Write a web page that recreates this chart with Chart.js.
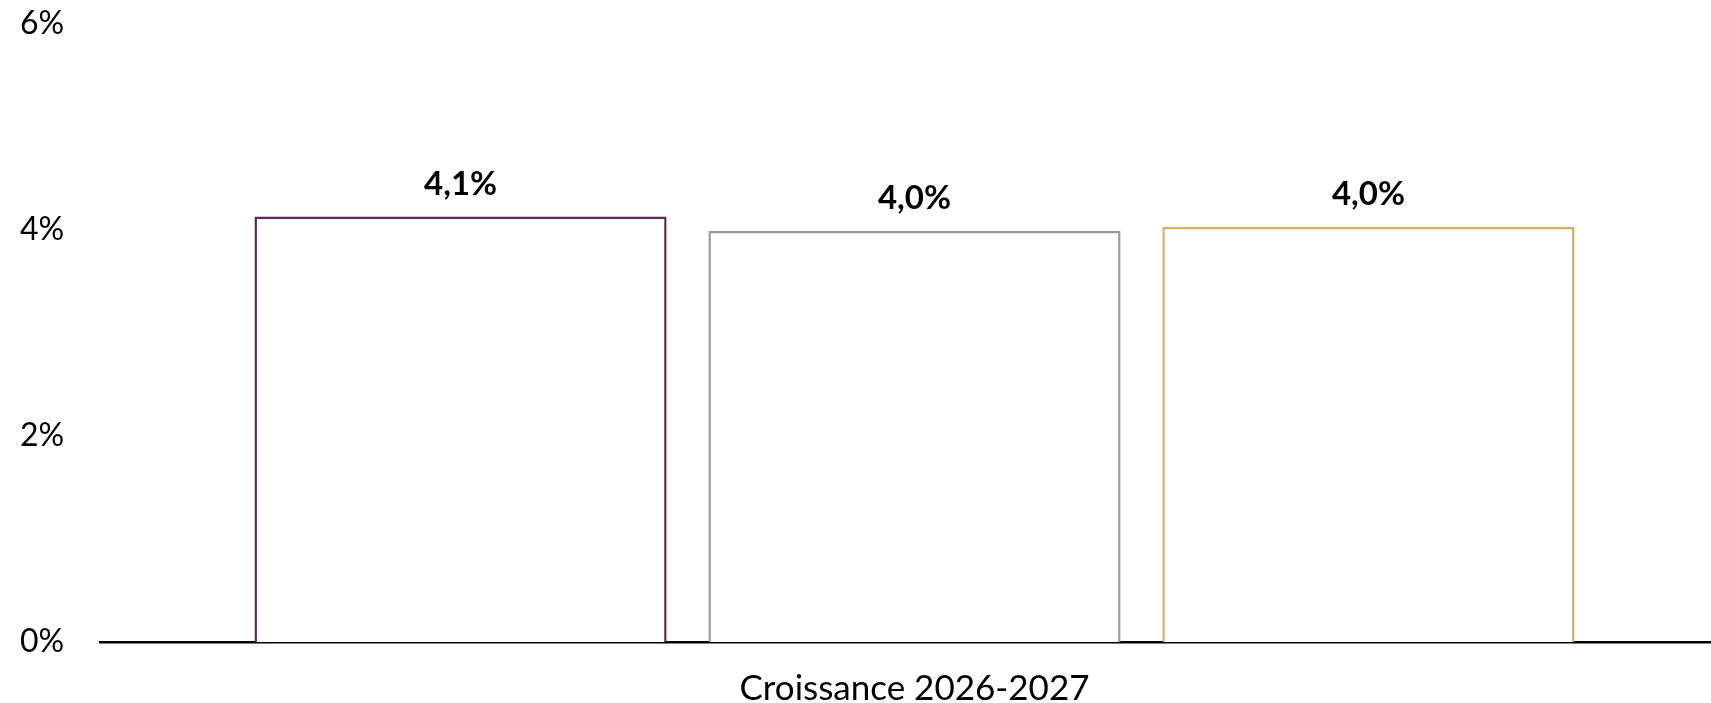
<!DOCTYPE html>
<html>
<head>
<meta charset="utf-8">
<script src="https://cdn.jsdelivr.net/npm/chart.js@4"></script>
<style>
    body { margin: 0; background: #fff; overflow: hidden; }
    canvas { display: block; }
</style>
</head>
<body>
<canvas id="growthChart" width="1729" height="703"></canvas>
<script>
// data
const categories = ['Croissance 2026-2027'];
const seriesNames = ['Série 1', 'Série 2', 'Série 3'];
const seriesValues = [4.13, 3.99, 4.03];
const seriesColors = ['#5e2a52', '#9b9b9b', '#d4b062'];
const yTicks = [0, 2, 4, 6];

const FONT = 'Lato, "Open Sans", sans-serif';

// value labels above each bar
const valueLabels = {
    id: 'valueLabels',
    afterDatasetsDraw(chart) {
        const ctx = chart.ctx;
        ctx.save();
        ctx.font = 'bold 33px ' + FONT;
        ctx.fillStyle = '#000';
        ctx.textAlign = 'center';
        ctx.textBaseline = 'alphabetic';
        chart.data.datasets.forEach((ds, i) => {
            chart.getDatasetMeta(i).data.forEach((bar, j) => {
                const txt = ds.data[j].toFixed(1).replace('.', ',') + '%';
                ctx.fillText(txt, bar.x, bar.y - 22);
            });
        });
        ctx.restore();
    }
};

const ctx = document.getElementById('growthChart').getContext('2d');
new Chart(ctx, {
    type: 'bar',
    data: {
        labels: categories,
        datasets: seriesNames.map((name, i) => ({
            label: name,
            data: [seriesValues[i]],
            backgroundColor: '#ffffff',
            borderColor: seriesColors[i],
            borderWidth: 2.5,
            categoryPercentage: 0.836,
            barPercentage: 0.908
        }))
    },
    options: {
        responsive: false,
        animation: false,
        layout: { padding: { left: 20, top: 24, right: 0, bottom: 0 } },
        plugins: {
            legend: { display: false },
            tooltip: { enabled: false }
        },
        scales: {
            x: {
                afterFit: (axis) => { axis.height = 61; },
                grid: { display: false, drawTicks: false },
                border: { display: true, color: '#000', width: 2.5 },
                ticks: {
                    color: '#000',
                    padding: 29,
                    font: { family: FONT, size: 35, lineHeight: 1 }
                }
            },
            y: {
                min: yTicks[0],
                max: yTicks[yTicks.length - 1],
                afterBuildTicks: (axis) => { axis.ticks = yTicks.map(v => ({ value: v })); },
                afterFit: (axis) => { axis.width = 80; },
                grid: { display: false, drawTicks: false },
                border: { display: false },
                ticks: {
                    color: '#000',
                    padding: 0,
                    crossAlign: 'far',
                    font: { family: FONT, size: 32, lineHeight: 1 },
                    callback: (v) => v + '%'
                }
            }
        }
    },
    plugins: [valueLabels]
});
</script>
</body>
</html>
